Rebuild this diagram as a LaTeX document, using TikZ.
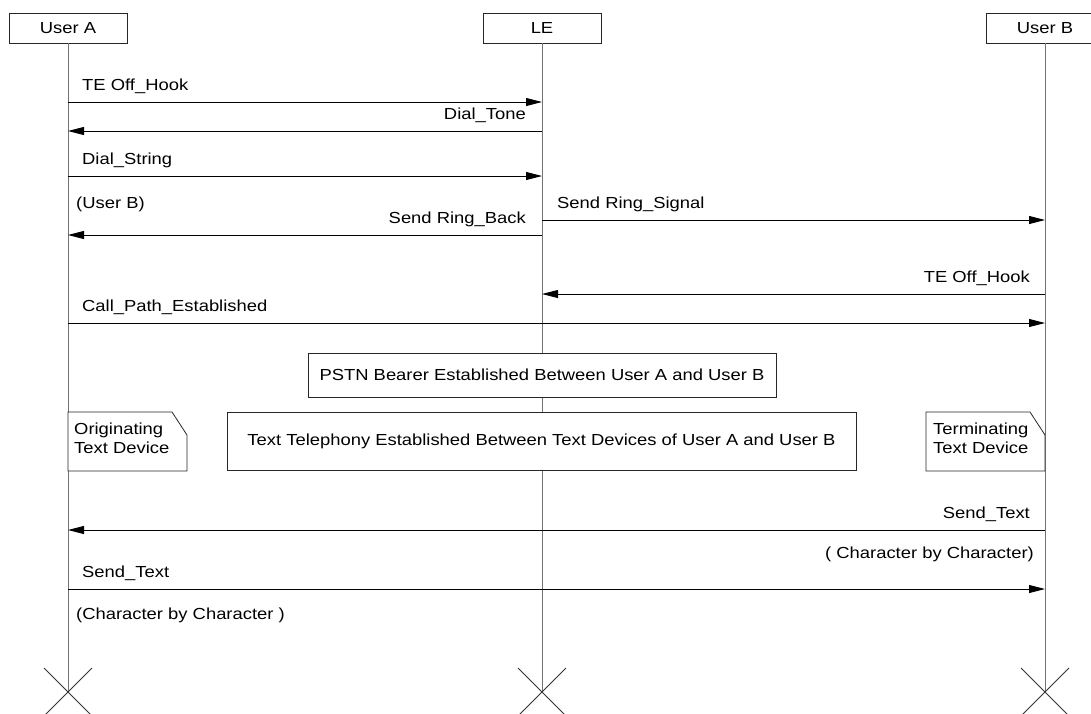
\documentclass[tikz,border=0pt]{standalone}
\usepackage{fontspec}
\setmainfont[FakeStretch=1.15]{Liberation Sans}
\usetikzlibrary{arrows.meta}

\begin{document}
\begin{tikzpicture}[x=1pt,y=-1pt,
  font=\fontsize{16}{19}\selectfont,
  entity/.style={draw=black!85, line width=0.8pt, fill=white,
    minimum width=118pt, minimum height=30pt, inner sep=0pt},
  life/.style={draw=black!55, line width=0.9pt},
  msg/.style={draw=black, line width=0.9pt,
    -{Triangle[length=16pt,width=8pt]}},
  lbl/.style={inner sep=0pt, anchor=base west},
  rlbl/.style={inner sep=0pt, anchor=base east},
  note/.style={draw=black!85, line width=0.8pt, fill=white},
  cross/.style={draw=black!80, line width=0.8pt}]

\clip (0,0) rectangle (1091,713);

% instances
\node[entity] (uA) at (68,28) {User A};
\node[entity] (le) at (542,28) {LE};
\node[entity] (uB) at (1045,28) {User B};

% lifeline ends
\coordinate (endA) at (68,692);
\coordinate (endL) at (542,692);
\coordinate (endB) at (1045,692);

\draw[life] (uA.south) -- (endA);
\draw[life] (le.south) -- (endL);
\draw[life] (uB.south) -- (endB);

% stop symbols
\foreach \e in {endA,endL,endB}{
  \draw[cross] (\e) +(-24,-24) -- +(24,24);
  \draw[cross] (\e) +(-24,24) -- +(24,-24);
}

% call set-up
\draw[msg] (uA |- 0,102) -- (le |- 0,102);
\node[lbl] at (82,90) {TE Off\_Hook};

\draw[msg] (le |- 0,131) -- (uA |- 0,131);
\node[rlbl] at (526,119) {Dial\_Tone};

\draw[msg] (uA |- 0,176) -- (le |- 0,176);
\node[lbl] at (82,164) {Dial\_String};
\node[lbl] at (76,208) {(User B)};

\draw[msg] (le |- 0,235) -- (uA |- 0,235);
\node[rlbl] at (526,223) {Send Ring\_Back};

\draw[msg] (le |- 0,220) -- (uB |- 0,220);
\node[lbl] at (557,208) {Send Ring\_Signal};

\draw[msg] (uB |- 0,294) -- (le |- 0,294);
\node[rlbl] at (1030,282) {TE Off\_Hook};

\draw[msg] (uA |- 0,323) -- (uB |- 0,323);
\node[lbl] at (82,311) {Call\_Path\_Established};

% bearer and text telephony
\node[note, minimum width=468pt, minimum height=44pt] (pstn) at (542,375)
  {PSTN Bearer Established Between User A and User B};
\node[note, minimum width=629pt, minimum height=58pt] (tt) at (541.5,441)
  {Text Telephony Established Between Text Devices of User A and User B};

% text device comments
\draw[note] (68,412) -- (172,412) -- (187,435) -- (187,471) -- (68,471) -- cycle;
\node[lbl] at (74,434) {Originating};
\node[lbl] at (74,453) {Text Device};

\draw[note] (926,412) -- (1030,412) -- (1045,435) -- (1045,471) -- (926,471) -- cycle;
\node[lbl] at (933,434) {Terminating};
\node[lbl] at (933,453) {Text Device};

% text exchange
\draw[msg] (uB |- 0,530) -- (uA |- 0,530);
\node[rlbl] at (1030,518) {Send\_Text};
\node[rlbl] at (1034,558) {( Character by Character)};

\draw[msg] (uA |- 0,589) -- (uB |- 0,589);
\node[lbl] at (82,577) {Send\_Text};
\node[lbl] at (76,619) {(Character by Character )};
\end{tikzpicture}
\end{document}
